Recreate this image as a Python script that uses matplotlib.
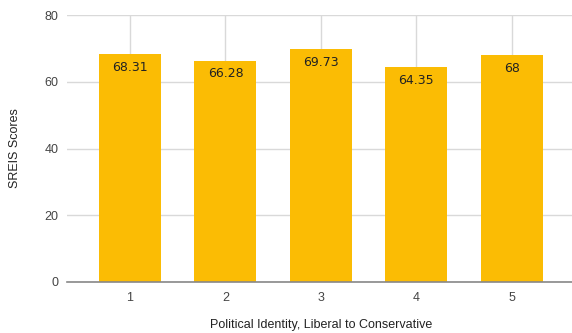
import matplotlib
matplotlib.use("Agg")
import matplotlib.pyplot as plt

categories = ["1", "2", "3", "4", "5"]
scores = [68.31, 66.28, 69.73, 64.35, 68]
labels = ["68.31", "66.28", "69.73", "64.35", "68"]
yticks = [0, 20, 40, 60, 80]

plt.rcParams['font.family'] = ['Liberation Sans', 'DejaVu Sans']

fig = plt.figure(figsize=(5.72, 3.33), dpi=100)
ax = fig.add_axes([67/572, 51/333, 505/572, 267/333])

x = list(range(1, len(categories) + 1))
bars = ax.bar(x, scores, width=0.65, color="#FBBC04", zorder=3)
for xi, v, lab in zip(x, scores, labels):
    ax.annotate(lab, (xi, v), xytext=(0, -9.5), textcoords="offset points",
                ha="center", va="center", fontsize=9, color="#222222",
                family=['DejaVu Sans'], zorder=4)

ax.set_xlim(0.34, 5.63)
ax.set_ylim(0, 80)
ax.set_yticks(yticks)
ax.set_xticks(x)
ax.set_xticklabels(categories)
ax.grid(True, axis="both", color="#d9d9d9", linewidth=1, zorder=0)
for s in ["top", "right", "left"]:
    ax.spines[s].set_visible(False)
ax.spines["bottom"].set_color("#888888")
ax.spines["bottom"].set_linewidth(1.2)
ax.spines["bottom"].set_zorder(5)
ax.tick_params(axis="both", length=0, labelsize=9, colors="#444444")
ax.tick_params(axis="y", pad=6)
ax.tick_params(axis="x", pad=7)
ax.set_ylabel("SREIS Scores", fontsize=9, color="#222222")
ax.set_xlabel("Political Identity, Liberal to Conservative", fontsize=9, color="#222222")
ax.xaxis.label.set_va("center")
ax.yaxis.label.set_va("center")
ax.xaxis.set_label_coords((321-67)/505, -(325-282)/267)
ax.yaxis.set_label_coords((15-67)/505, (282-148)/267)

fig.savefig("out.png", dpi=100)
